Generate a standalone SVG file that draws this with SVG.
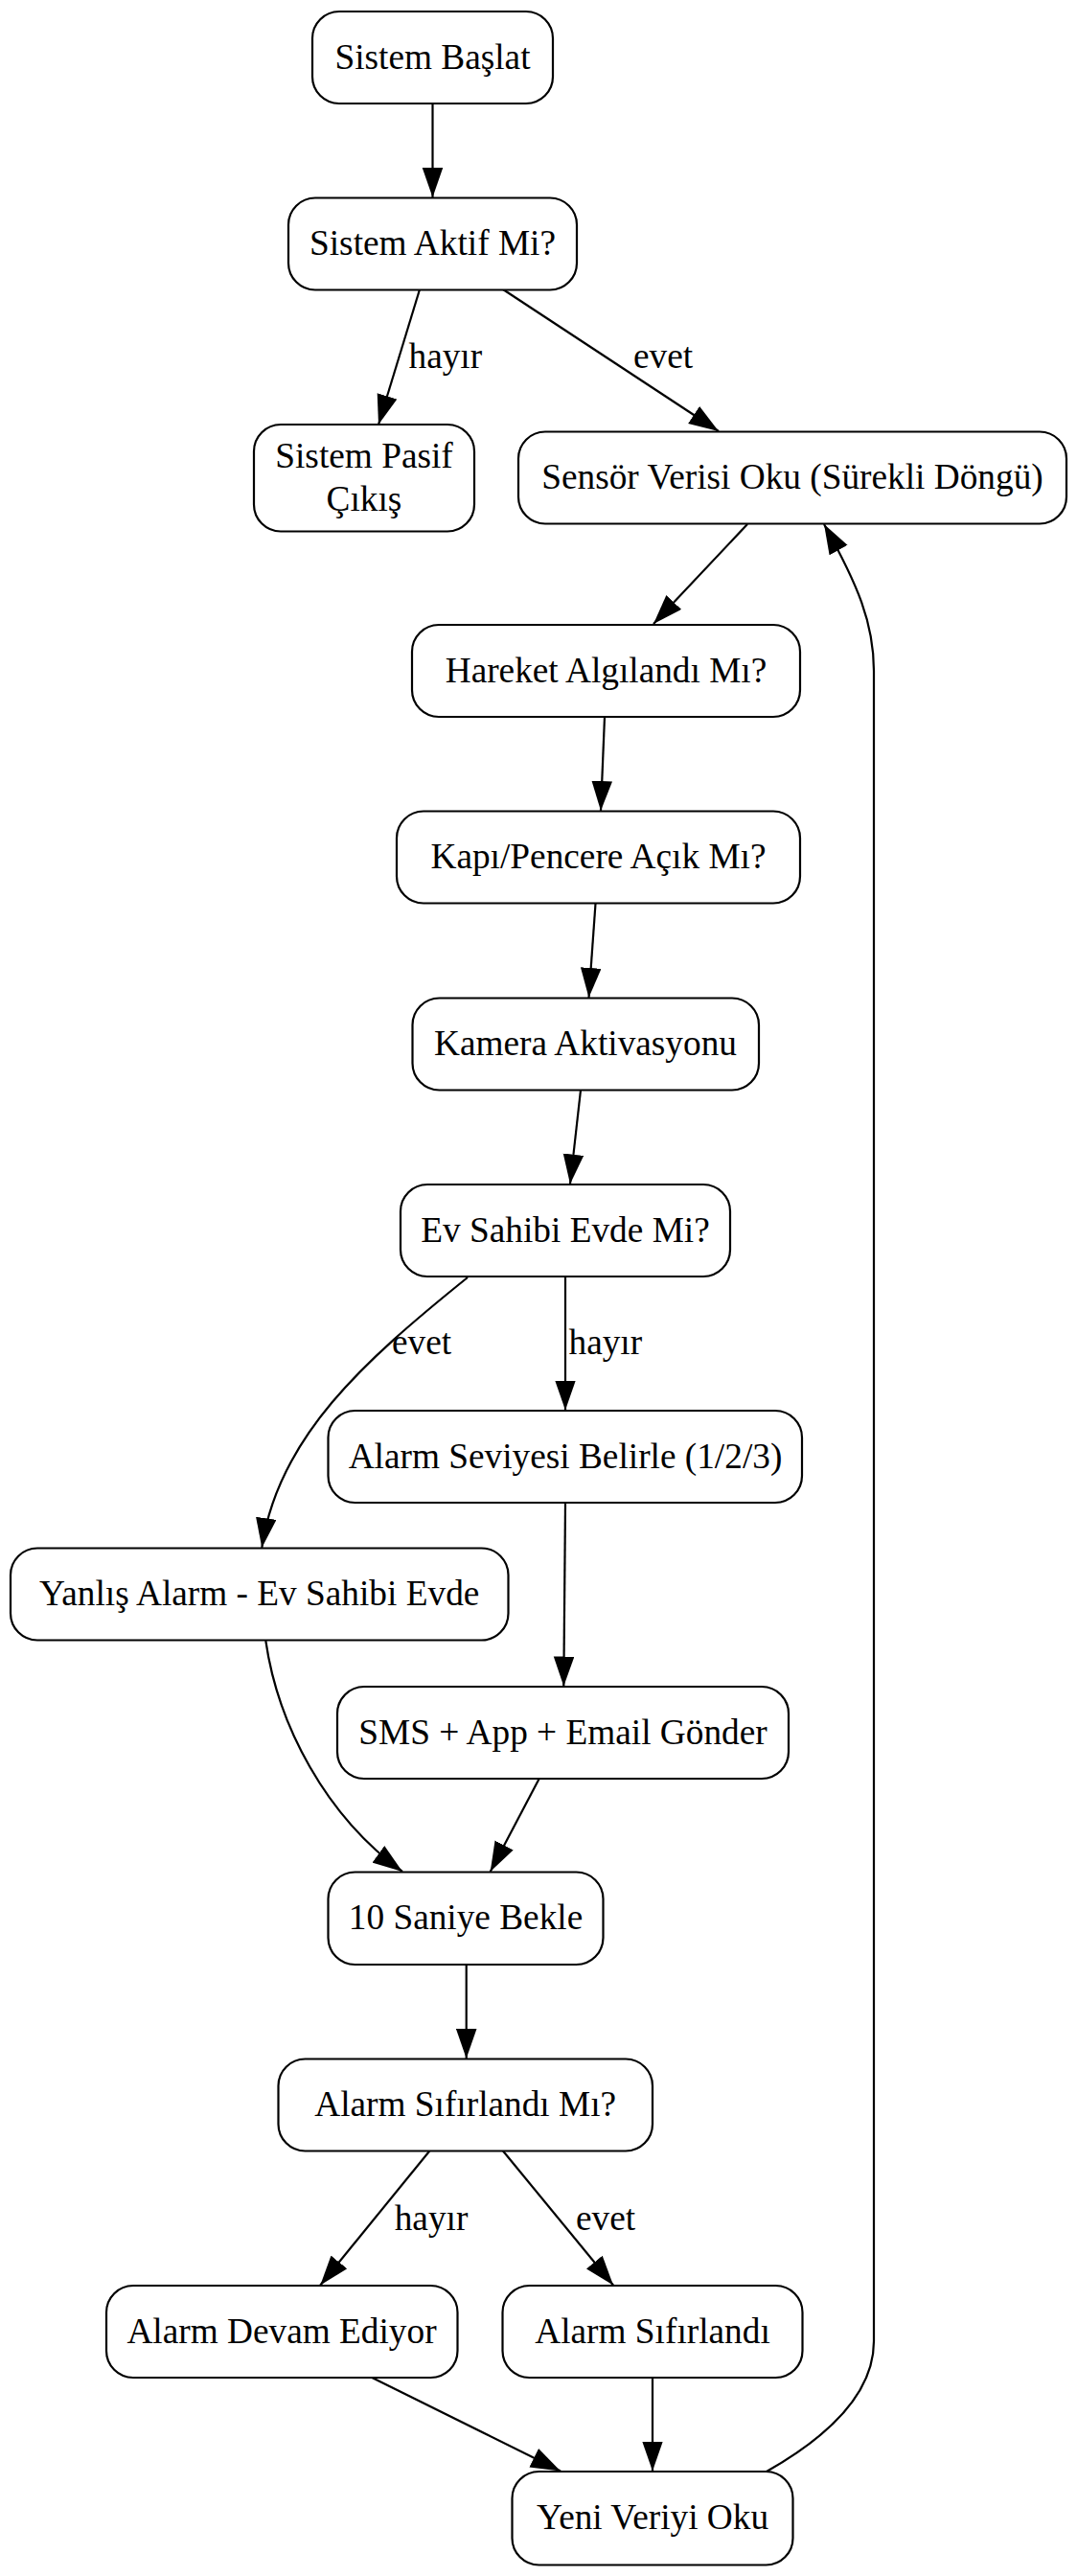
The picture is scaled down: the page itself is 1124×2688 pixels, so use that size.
<svg xmlns="http://www.w3.org/2000/svg" width="1124" height="2688" viewBox="0 0 1124 2688">
<style>
.node rect{fill:#fff;stroke:#000;stroke-width:2.2}
.node text,.lbl{font-family:"Liberation Serif","Times New Roman",serif;font-size:37.3px;fill:#000}
.node text{text-anchor:middle}
.edge{fill:none;stroke:#000;stroke-width:2.2}
</style>
<defs>
<marker id="ah" markerUnits="userSpaceOnUse" markerWidth="32" markerHeight="22" refX="31" refY="10.8" orient="auto">
<path d="M0,0 L31,10.8 L0,21.6 z" fill="#000"/>
</marker>
</defs>
<rect width="1124" height="2688" fill="#fff"/>
<g id="connectors">
<path class="edge" marker-end="url(#ah)" d="M451.5,108 L451.5,206"/>
<path class="edge" marker-end="url(#ah)" d="M438,302 L395,443"/>
<path class="edge" marker-end="url(#ah)" d="M525,302 L750,450"/>
<path class="edge" marker-end="url(#ah)" d="M780,547 L682,651"/>
<path class="edge" marker-end="url(#ah)" d="M631,748 L627,846"/>
<path class="edge" marker-end="url(#ah)" d="M621.5,943 L614.5,1041"/>
<path class="edge" marker-end="url(#ah)" d="M606,1137.5 L595,1235.5"/>
<path class="edge" marker-end="url(#ah)" d="M488,1333 C380,1420 290,1500 273.3,1615"/>
<path class="edge" marker-end="url(#ah)" d="M590,1332 L590,1471.5"/>
<path class="edge" marker-end="url(#ah)" d="M590,1568.5 L588.3,1759.5"/>
<path class="edge" marker-end="url(#ah)" d="M277.3,1712 C290,1800 340,1895 420,1953"/>
<path class="edge" marker-end="url(#ah)" d="M562.7,1856 L511.7,1953"/>
<path class="edge" marker-end="url(#ah)" d="M486.7,2050 L486.7,2148"/>
<path class="edge" marker-end="url(#ah)" d="M448.3,2244.5 L334.3,2384.5"/>
<path class="edge" marker-end="url(#ah)" d="M525,2244.5 L640,2384.5"/>
<path class="edge" marker-end="url(#ah)" d="M388.3,2481 L585,2578.5"/>
<path class="edge" marker-end="url(#ah)" d="M681,2481 L681,2578.5"/>
<path class="edge" marker-end="url(#ah)" d="M800,2579 C860,2545 912,2500 912,2443 L912,700 C912,650 895,610 860,547"/>
<text class="lbl" x="426.5" y="384">hayır</text>
<text class="lbl" x="661" y="384">evet</text>
<text class="lbl" x="409" y="1413">evet</text>
<text class="lbl" x="593.5" y="1413">hayır</text>
<text class="lbl" x="411.7" y="2327">hayır</text>
<text class="lbl" x="601" y="2327">evet</text>
</g>
<g id="n1" class="node"><rect x="326" y="12" width="251" height="96" rx="28" ry="28"/><text x="451.5" y="71.5">Sistem Başlat</text></g>
<g id="n2" class="node"><rect x="301" y="206.5" width="301" height="96" rx="28" ry="28"/><text x="451.5" y="266">Sistem Aktif Mi?</text></g>
<g id="n3" class="node"><rect x="265" y="443" width="230" height="111.5" rx="28" ry="28"/><text x="380" y="487.5">Sistem Pasif</text><text x="380" y="532.5">Çıkış</text></g>
<g id="n4" class="node"><rect x="541" y="450.5" width="572" height="96" rx="28" ry="28"/><text x="827" y="510">Sensör Verisi Oku (Sürekli Döngü)</text></g>
<g id="n5" class="node"><rect x="430" y="652" width="405" height="96" rx="28" ry="28"/><text x="632.5" y="711.5">Hareket Algılandı Mı?</text></g>
<g id="n6" class="node"><rect x="414" y="846.5" width="421" height="96" rx="28" ry="28"/><text x="624.5" y="906">Kapı/Pencere Açık Mı?</text></g>
<g id="n7" class="node"><rect x="430.5" y="1041.5" width="361.5" height="96" rx="28" ry="28"/><text x="611" y="1101">Kamera Aktivasyonu</text></g>
<g id="n8" class="node"><rect x="418" y="1236" width="344" height="96" rx="28" ry="28"/><text x="590" y="1295.5">Ev Sahibi Evde Mi?</text></g>
<g id="n9" class="node"><rect x="342.5" y="1472" width="494.5" height="96" rx="28" ry="28"/><text x="590" y="1531.5">Alarm Seviyesi Belirle (1/2/3)</text></g>
<g id="n10" class="node"><rect x="11" y="1615.5" width="519.5" height="96" rx="28" ry="28"/><text x="270.7" y="1675">Yanlış Alarm - Ev Sahibi Evde</text></g>
<g id="n11" class="node"><rect x="352" y="1760" width="471" height="96" rx="28" ry="28"/><text x="587.5" y="1819.5">SMS + App + Email Gönder</text></g>
<g id="n12" class="node"><rect x="342.5" y="1953.5" width="287" height="96.5" rx="28" ry="28"/><text x="486" y="2013">10 Saniye Bekle</text></g>
<g id="n13" class="node"><rect x="290.5" y="2148.5" width="390.5" height="96" rx="28" ry="28"/><text x="485.7" y="2208">Alarm Sıfırlandı Mı?</text></g>
<g id="n14" class="node"><rect x="111" y="2385" width="366.5" height="96" rx="28" ry="28"/><text x="294" y="2444.5">Alarm Devam Ediyor</text></g>
<g id="n15" class="node"><rect x="524.5" y="2385" width="313" height="96" rx="28" ry="28"/><text x="681" y="2444.5">Alarm Sıfırlandı</text></g>
<g id="n16" class="node"><rect x="534.5" y="2579" width="293" height="97.5" rx="28" ry="28"/><text x="681" y="2638.5">Yeni Veriyi Oku</text></g>
</svg>
